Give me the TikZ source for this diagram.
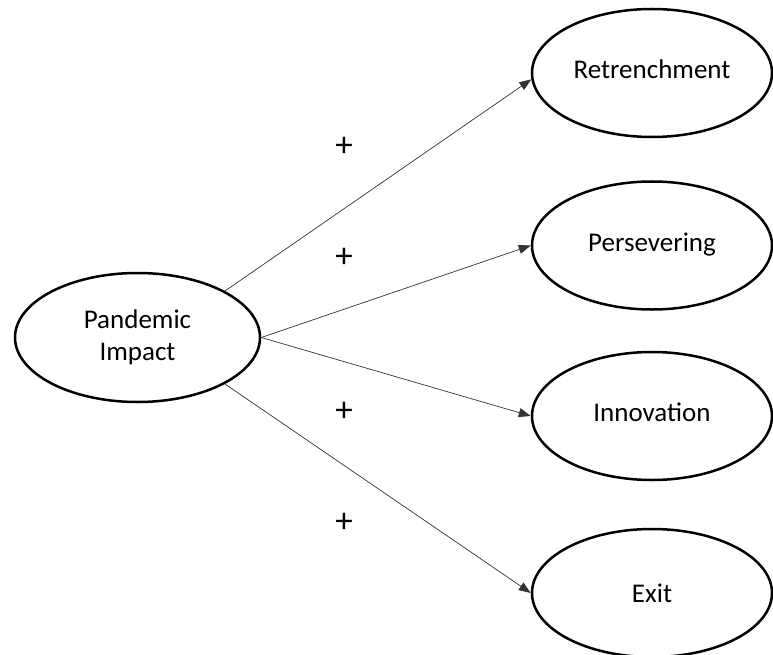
\documentclass[tikz,border=0pt]{standalone}
\usepackage{fontspec}
\setmainfont{Carlito}
\usepackage{tikz}
\usetikzlibrary{shapes.geometric,arrows.meta}

\begin{document}
\begin{tikzpicture}[x=1pt,y=-1pt,
    factor/.style={ellipse,draw=black,line width=2.5pt,minimum width=240pt,minimum height=128pt,inner sep=0pt,align=center,font=\fontsize{27}{32}\selectfont},
    outcome/.style={factor,text height=20pt,text depth=9pt},
    link/.style={-{Triangle[length=12pt,width=9pt]},line width=0.7pt,draw=black!80},
    sign/.style={font=\fontsize{35}{35}\selectfont}]
        \useasboundingbox (0,0) rectangle (773,655);
        \node[factor,minimum width=245pt,minimum height=129pt] (pan) at (137.5,337.5) {Pandemic\\Impact};
        \node[outcome] (ret) at (652,73) {Retrenchment};
        \node[outcome] (per) at (652,245.5) {Persevering};
        \node[outcome] (inn) at (652,416) {Innovation};
        \node[factor] (ext) at (652,593) {Exit};
        \draw[link] (pan.28)--(ret.183);
        \draw[link] (pan.east)--(per.west);
        \draw[link] (pan.east)--(inn.west);
        \draw[link] (pan.332)--(ext.west);
        \node[sign] (s1) at (344,147) {+};
        \node[sign] (s2) at (344,258) {+};
        \node[sign] (s3) at (344,412) {+};
        \node[sign] (s4) at (344,523) {+};
      \end{tikzpicture}
\end{document}
